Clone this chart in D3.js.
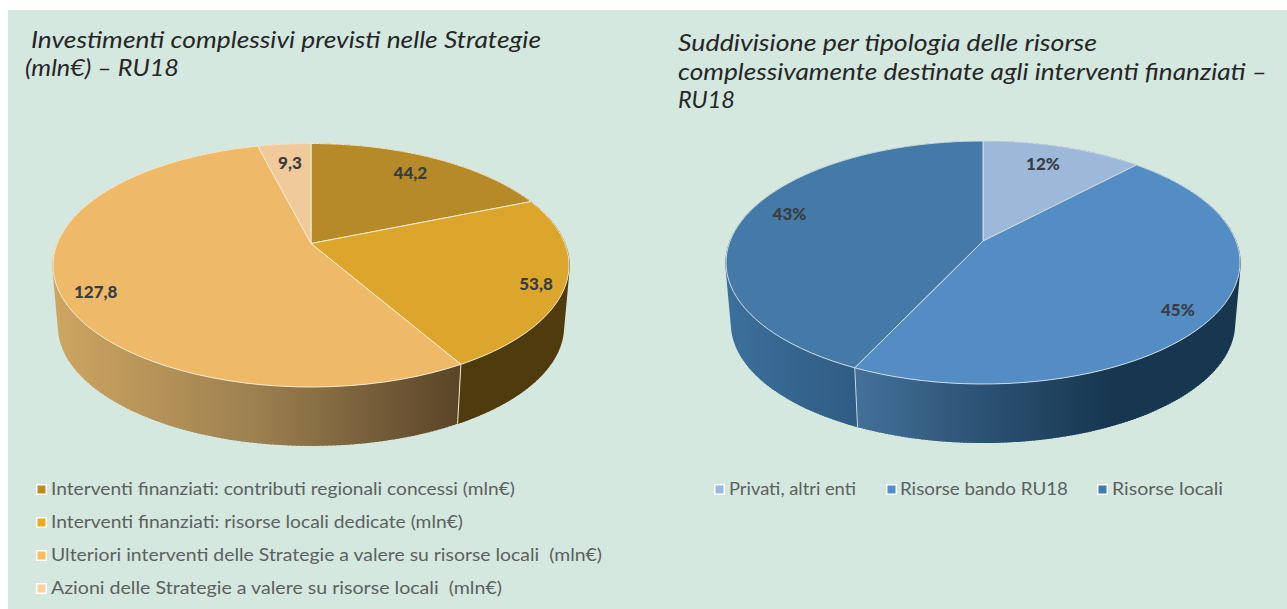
<!DOCTYPE html>
<html><head><meta charset="utf-8">
<script src="https://cdn.jsdelivr.net/npm/d3@7/dist/d3.min.js"></script>
<style>html,body{margin:0;padding:0;background:#fff}svg{display:block}</style>
</head><body><svg id="c" width="1287" height="609"></svg>
<script>
// ---- data ----
const leftCategories = ["Interventi finanziati: contributi regionali concessi (mln€)","Interventi finanziati: risorse locali dedicate (mln€)","Ulteriori interventi delle Strategie a valere su risorse locali  (mln€)","Azioni delle Strategie a valere su risorse locali  (mln€)"];
const leftValues = [44.2, 53.8, 127.8, 9.3];
const leftLabels = ["44,2","53,8","127,8","9,3"];
const rightCategories = ["Privati, altri enti","Risorse bando RU18","Risorse locali"];
const rightValues = [12, 45, 43];
const rightLabels = ["12%","45%","43%"];
// ---- styles ----
const leftTop = ["#b68a29","#dba62b","#eeba69","#f1ca9c"];
const leftSwatch = ["#bb8c22","#e9ab1f","#fdbb5f","#fdd0a0"];
const leftWalls = [["#4f3b0e","#4f3b0e"],["#4f3b0e","#4f3b0e"],["#cfa561","#9c8050","#5a4428"],["#cfa561","#cfa561"]];
const rightTop = ["#9db8d8","#548dc3","#457aa8"];
const rightSwatch = ["#9db8de","#4f90cc","#4579ae"];
const rightWalls = [["#173750","#173750"],["#44719a","#2c5273","#173750","#173750"],["#3c709c","#2f5c84","#386488"]];

const svg = d3.select("#c");
const FONT = "Lato, 'Open Sans', sans-serif";
svg.append("rect").attr("x",8).attr("y",10).attr("width",1279).attr("height",599).attr("fill","#d4e8e0");
const defs = svg.append("defs");

function pie3d(o){
  const g = svg.append("g");
  const halfUp = o.apexY - o.top, halfDown = o.bottom - o.apexY;
  const c = (halfUp - halfDown) / (halfUp + halfDown);
  const A = halfUp * (1 - c);
  const k = o.rx * Math.sqrt(1 - c*c);
  // projective mapping of the pie disc onto the tilted top face
  const project = (a, r) => {
    const ux = r*Math.sin(a), uy = -r*Math.cos(a), den = 1 + c*uy;
    return [o.cx + k*ux/den, o.apexY + A*uy/den];
  };
  const vpY = (o.floor - o.scale*o.bottom)/(1 - o.scale);
  const lower = ([x,y]) => [o.cx + (x-o.cx)*o.scale, vpY + (y-vpY)*o.scale];
  const arcs = d3.pie().sort(null)(o.values);
  const line = d3.line();
  const sample = (a0,a1,n=60) => d3.range(0,n+1).map(i => a0 + (a1-a0)*i/n);

  // walls
  arcs.forEach((d,i)=>{
    const id = o.id + "w" + i;
    const pts = sample(d.startAngle,d.endAngle).map(a=>project(a,1));
    const ext = d3.extent(pts,p=>p[0]);
    const grad = defs.append("linearGradient").attr("id",id).attr("gradientUnits","userSpaceOnUse")
      .attr("x1",ext[0]).attr("x2",ext[1]).attr("y1",0).attr("y2",0);
    const cols = o.walls[i];
    const stopPos = d3.scaleLinear().domain([0,cols.length-1]).range([0,1]);
    cols.forEach((col,j)=>grad.append("stop").attr("offset",stopPos(j)).attr("stop-color",col));
    const shape = pts.concat(pts.slice().reverse().map(lower));
    g.append("path").attr("d",line(shape)+"Z").attr("fill",`url(#${id})`);
    // generator lines fill the silhouette between the top and bottom rims
    const rungs = sample(d.startAngle,d.endAngle,240).map(a=>{const p=project(a,1);return line([p,lower(p)]);}).join("");
    g.append("path").attr("d",rungs).attr("fill","none").attr("stroke",`url(#${id})`).attr("stroke-width",1.5);
  });
  // visible slice boundaries on the wall
  arcs.forEach(d=>{
    const a = d.endAngle;
    if (Math.cos(a) < -0.1){
      const p = project(a,1);
      g.append("path").attr("d",line([p,lower(p)])).attr("stroke",o.edge).attr("stroke-width",1).attr("fill","none");
    }
  });
  // top face
  arcs.forEach((d,i)=>{
    const pts = [project(0,0)].concat(sample(d.startAngle,d.endAngle).map(a=>project(a,1)));
    g.append("path").attr("d",line(pts)+"Z").attr("fill",o.tops[i]).attr("stroke",o.edge).attr("stroke-width",1).attr("stroke-linejoin","round");
  });
  // labels
  arcs.forEach((d,i)=>{
    const p = project((d.startAngle+d.endAngle)/2,o.labelR[i]);
    g.append("text").attr("x",p[0]+o.labelNudge[i][0]).attr("y",p[1]+o.labelNudge[i][1]).attr("dy","0.35em").attr("text-anchor","middle")
      .attr("font-family",FONT).attr("font-weight",900).attr("font-size",17).attr("fill","#383c44")
      .text(o.labels[i]);
  });
}

pie3d({id:"l",cx:311,apexY:243.5,top:143.5,bottom:387,floor:446,rx:258,scale:0.978,values:leftValues,labels:leftLabels,
  labelR:[0.82,0.9,0.87,0.8],labelNudge:[[-4,1],[-3,4],[2,8],[1,1]],tops:leftTop,walls:leftWalls,edge:"#f6eacb"});
pie3d({id:"r",cx:983,apexY:241,top:141,bottom:384,floor:443,rx:257,scale:0.978,values:rightValues,labels:rightLabels,
  labelR:[0.83,0.92,0.83],labelNudge:[[-8,3],[-17,2],[5,-6]],tops:rightTop,walls:rightWalls,edge:"#cddbe6"});

function fitText(x,y,str,w,size,fill,italic){
  return svg.append("text").attr("x",x).attr("y",y).attr("font-family",FONT).attr("font-size",size)
    .attr("fill",fill).attr("font-style",italic?"italic":"normal").attr("xml:space","preserve")
    .style("white-space","pre").attr("textLength",w).attr("lengthAdjust","spacingAndGlyphs").text(str);
}
const titleLines = [
  [31,48,"Investimenti complessivi previsti nelle Strategie",510],
  [25,76,"(mln€) – RU18",154],
  [678,51,"Suddivisione per tipologia delle risorse",419],
  [678,80,"complessivamente destinate agli interventi finanziati –",589],
  [678,108,"RU18",57]];
titleLines.forEach(t=>fitText(t[0],t[1],t[2],t[3],24,"#262626",true));

function swatch(x,cy,col){
  svg.append("rect").attr("x",x).attr("y",cy-5.5).attr("width",11).attr("height",11).attr("fill","#fff");
  svg.append("rect").attr("x",x+1.5).attr("y",cy-4).attr("width",8).attr("height",8).attr("fill",col);
}
const legendRows = d3.scalePoint().domain(d3.range(leftCategories.length)).range([489.5,588.5]);
const leftWidths = [464,412,551,451];
leftCategories.forEach((t,i)=>{
  const y = legendRows(i);
  swatch(36,y,leftSwatch[i]);
  fitText(51,y+5,t,leftWidths[i],17,"#5c605e",false);
});
const rightSwatchX = [714,886,1097], rightTextX = [729,900,1112], rightW = [127,168,111];
rightCategories.forEach((t,i)=>{
  swatch(rightSwatchX[i],489.5,rightSwatch[i]);
  fitText(rightTextX[i],494.5,t,rightW[i],17,"#5c605e",false);
});
</script></body></html>
